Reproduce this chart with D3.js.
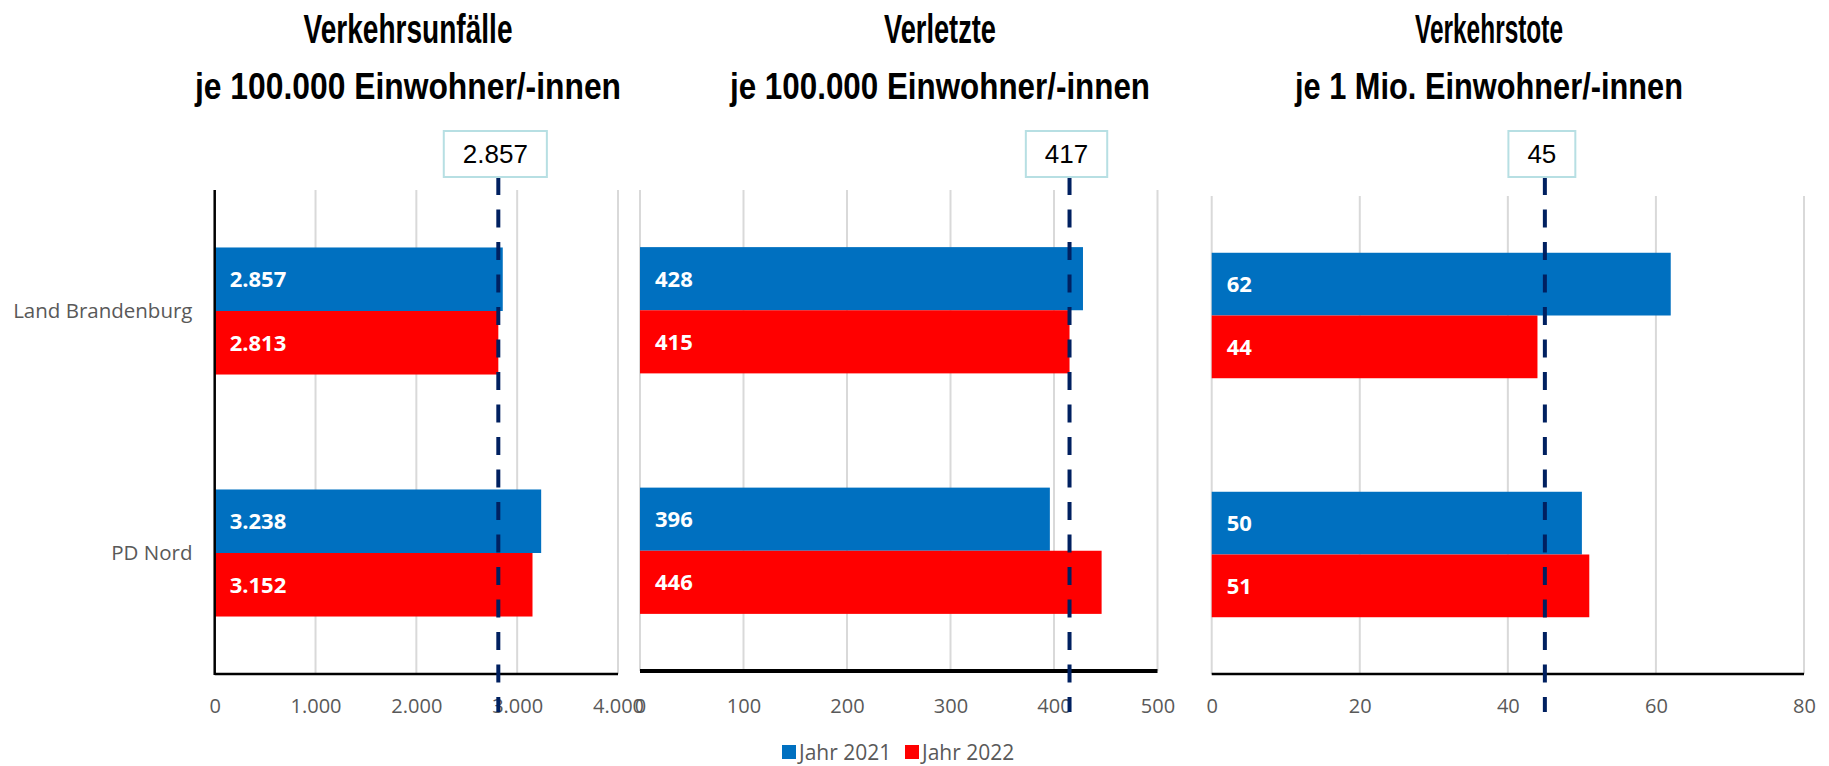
<!DOCTYPE html>
<html>
<head>
<meta charset="utf-8">
<script src="https://cdn.jsdelivr.net/npm/d3@7"></script>
<style>
  body { margin: 0; background: #fff; }
  svg { display: block; }
</style>
</head>
<body>
<div id="chart"></div>
<script>
// data
const categories = ['Land Brandenburg', 'PD Nord'];
const seriesNames = ['Jahr 2021', 'Jahr 2022'];
const titlesTop = ['Verkehrsunfälle', 'Verletzte', 'Verkehrstote'];
const titlesSub = ['je 100.000 Einwohner/-innen', 'je 100.000 Einwohner/-innen', 'je 1 Mio. Einwohner/-innen'];

const unfaelle2021 = [2857, 3238];
const unfaelle2022 = [2813, 3152];
const verletzte2021 = [428, 396];
const verletzte2022 = [415, 446];
const tote2021 = [62, 50];
const tote2022 = [44, 51];

const axisMax = [4000, 500, 80];
const tickStep = [1000, 100, 20];

// dashed reference line (position as drawn) and its callout text
const refValues = [2813, 415, 45];
const refLabels = ['2.857', '417', '45'];

const colors = ['#0070C0', '#FF0000'];

const de = d3.formatLocale({decimal: ',', thousands: '.', grouping: [3], currency: ['', '€']});
const fmt = de.format(',d');

// layout of the three panels (pixels)
const layout = [
  {x0: 214.7, x1: 618, top: 190, bottom: 674, cx: 408, w1: 209, w2: 426, base: 2.5, yAxis: true},
  {x0: 640, x1: 1157.5, top: 190, bottom: 671, cx: 940, w1: 112, w2: 420, base: 4, yAxis: false},
  {x0: 1211.7, x1: 1804, top: 196, bottom: 674, cx: 1489, w1: 148, w2: 388, base: 2.5, yAxis: false}
];

const series = [
  [unfaelle2021, unfaelle2022],
  [verletzte2021, verletzte2022],
  [tote2021, tote2022]
];

const svg = d3.select('#chart').append('svg')
  .attr('width', 1829)
  .attr('height', 766);

const textFont = "'Open Sans', 'Noto Sans', sans-serif";
const titleFont = "'Liberation Sans Narrow', 'Liberation Sans', Arial, sans-serif";

series.forEach((s, i) => {
  const L = layout[i];
  const g = svg.append('g');

  const x = d3.scaleLinear().domain([0, axisMax[i]]).range([L.x0, L.x1]);
  const y = d3.scaleBand().domain(categories).range([L.top, L.bottom])
    .paddingInner(0.475).paddingOuter(0.2375);
  const ySub = d3.scaleBand().domain(seriesNames).range([0, y.bandwidth()]);

  const ticks = d3.range(0, axisMax[i] + 1, tickStep[i]);

  // grid
  g.selectAll('.grid')
    .data(L.yAxis ? ticks.slice(1) : ticks)
    .enter().append('line')
    .attr('class', 'grid')
    .attr('x1', d => x(d)).attr('x2', d => x(d))
    .attr('y1', L.top).attr('y2', L.bottom)
    .attr('stroke', '#d9d9d9')
    .attr('stroke-width', 2);

  // bars
  const rows = categories.map((c, ci) => ({cat: c, vals: s.map((v, si) => ({name: seriesNames[si], v: v[ci], si}))}));
  const grp = g.selectAll('.cat')
    .data(rows)
    .enter().append('g')
    .attr('class', 'cat')
    .attr('transform', d => `translate(0,${y(d.cat)})`);

  grp.selectAll('rect')
    .data(d => d.vals)
    .enter().append('rect')
    .attr('x', x(0))
    .attr('y', d => ySub(d.name))
    .attr('width', d => x(d.v) - x(0))
    .attr('height', ySub.bandwidth())
    .attr('fill', d => colors[d.si]);

  grp.selectAll('.lbl')
    .data(d => d.vals)
    .enter().append('text')
    .attr('class', 'lbl')
    .attr('x', x(0) + 15)
    .attr('y', d => ySub(d.name) + ySub.bandwidth() / 2)
    .attr('dy', '0.36em')
    .attr('fill', '#fff')
    .attr('font-family', textFont)
    .attr('font-weight', 700)
    .attr('font-size', 22)
    .text(d => fmt(d.v));

  // axis lines
  g.append('line')
    .attr('x1', x(0)).attr('x2', L.x1)
    .attr('y1', L.bottom).attr('y2', L.bottom)
    .attr('stroke', '#000')
    .attr('stroke-width', L.base);
  if (L.yAxis) {
    g.append('line')
      .attr('x1', x(0)).attr('x2', x(0))
      .attr('y1', L.top).attr('y2', L.bottom + 1)
      .attr('stroke', '#000')
      .attr('stroke-width', 2.5);
  }

  // tick labels
  const axis = d3.axisBottom(x).tickValues(ticks).tickSize(0).tickFormat(fmt);
  const ax = g.append('g')
    .attr('transform', `translate(0,706)`)
    .call(axis);
  ax.select('.domain').remove();
  ax.selectAll('text')
    .attr('y', 0)
    .attr('dy', '0.36em')
    .attr('fill', '#595959')
    .attr('font-family', textFont)
    .attr('font-size', 20);

  // category labels (only on first panel)
  if (i === 0) {
    g.selectAll('.catlbl')
      .data(categories)
      .enter().append('text')
      .attr('class', 'catlbl')
      .attr('x', 192.5)
      .attr('y', d => y(d) + y.bandwidth() / 2)
      .attr('dy', '0.36em')
      .attr('text-anchor', 'end')
      .attr('fill', '#595959')
      .attr('font-family', textFont)
      .attr('font-size', 20.5)
      .text(d => d);
  }

  // titles
  g.append('text')
    .attr('x', L.cx).attr('y', 43)
    .attr('text-anchor', 'middle')
    .attr('font-family', titleFont)
    .attr('font-weight', 700)
    .attr('font-size', 40)
    .attr('textLength', L.w1)
    .attr('lengthAdjust', 'spacingAndGlyphs')
    .text(titlesTop[i]);
  g.append('text')
    .attr('x', L.cx).attr('y', 99)
    .attr('text-anchor', 'middle')
    .attr('font-family', titleFont)
    .attr('font-weight', 700)
    .attr('font-size', 37)
    .attr('textLength', L.w2)
    .attr('lengthAdjust', 'spacingAndGlyphs')
    .text(titlesSub[i]);

  // reference line + callout
  const rx = x(refValues[i]);
  g.append('line')
    .attr('x1', rx).attr('x2', rx)
    .attr('y1', 177).attr('y2', 712)
    .attr('stroke', '#002060')
    .attr('stroke-width', 4)
    .attr('stroke-dasharray', '18,14.5');

  const tag = g.append('g');
  const t = tag.append('text')
    .attr('x', rx - 3).attr('y', 154)
    .attr('dy', '0.36em')
    .attr('text-anchor', 'middle')
    .attr('font-family', "'Liberation Sans', Arial, sans-serif")
    .attr('font-size', 26)
    .attr('fill', '#000')
    .text(refLabels[i]);
  const bb = t.node().getBBox();
  tag.insert('rect', 'text')
    .attr('x', bb.x - 19).attr('y', 131)
    .attr('width', bb.width + 38).attr('height', 46)
    .attr('fill', '#fff')
    .attr('stroke', '#b7dfe3')
    .attr('stroke-width', 2);
});

// legend
const legend = svg.append('g').attr('transform', 'translate(782,752)');
const legX = [0, 123];
seriesNames.forEach((n, i) => {
  legend.append('rect')
    .attr('x', legX[i]).attr('y', -7)
    .attr('width', 14).attr('height', 14)
    .attr('fill', colors[i]);
  legend.append('text')
    .attr('x', legX[i] + 17).attr('y', 0)
    .attr('dy', '0.36em')
    .attr('fill', '#595959')
    .attr('font-family', textFont)
    .attr('font-size', 21)
    .text(n);
});
</script>
</body>
</html>
